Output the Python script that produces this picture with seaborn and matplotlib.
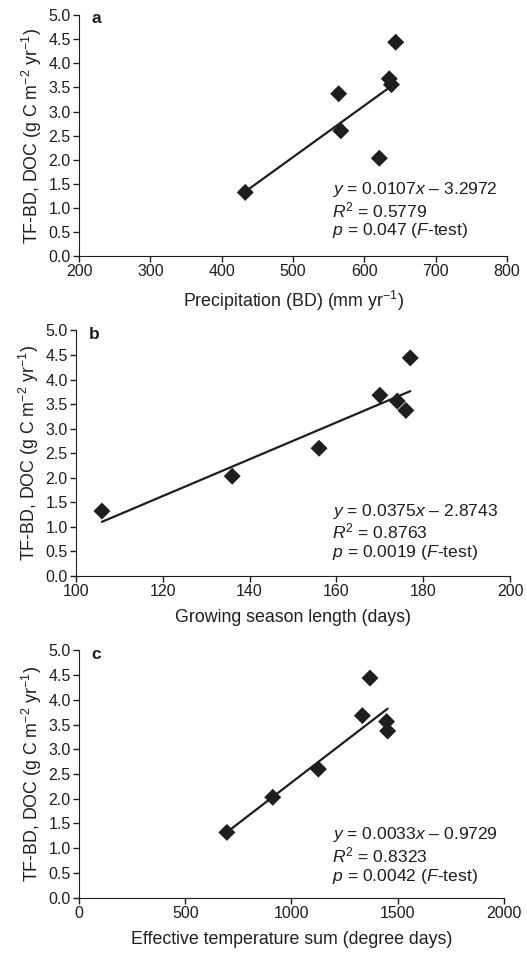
import numpy as np
import pandas as pd
import seaborn as sns
import matplotlib
matplotlib.use("Agg")
import matplotlib.pyplot as plt

# DOC flux (TF-BD) for the seven sites, g C m-2 yr-1
doc = [1.32, 2.03, 2.60, 3.37, 3.56, 3.68, 4.44]
# predictors for the same sites
precip = [433, 621, 567, 564, 638, 635, 644]
season_len = [106, 136, 156, 176, 174, 170, 177]
temp_sum = [696, 912, 1127, 1453, 1448, 1334, 1370]

# fitted lines (slope, intercept) and stats text
slopes = [0.0107, 0.0375, 0.0033]
intercepts = [-3.2972, -2.8743, -0.9729]
eq_txt = [r"$y$ = 0.0107$x$ – 3.2972", r"$y$ = 0.0375$x$ – 2.8743", r"$y$ = 0.0033$x$ – 0.9729"]
r2_txt = [r"$R^2$ = 0.5779", r"$R^2$ = 0.8763", r"$R^2$ = 0.8323"]
p_txt = [r"$p$ = 0.047 ($F$-test)", r"$p$ = 0.0019 ($F$-test)", r"$p$ = 0.0042 ($F$-test)"]

panel_letters = ["a", "b", "c"]
xlabels = [r"Precipitation (BD) (mm yr$^{-1}$)", "Growing season length (days)",
           "Effective temperature sum (degree days)"]
xlims = [(200, 800), (100, 200), (0, 2000)]
xsteps = [100, 20, 500]
ylabel = r"TF-BD, DOC (g C m$^{-2}$ yr$^{-1}$)"

sns.set_style("ticks")
plt.rcParams["font.family"] = ["Liberation Sans", "DejaVu Sans"]
plt.rcParams["mathtext.fontset"] = "custom"
plt.rcParams["mathtext.rm"] = "Liberation Sans"
plt.rcParams["mathtext.it"] = "Liberation Sans:italic"
plt.rcParams["mathtext.bf"] = "Liberation Sans:bold"

fig = plt.figure(figsize=(5.27, 9.55), dpi=100)
boxes = [[0.150, 0.732, 0.812, 0.252],
         [0.144, 0.397, 0.824, 0.257],
         [0.150, 0.060, 0.806, 0.259]]
text_x = [0.591, 0.59, 0.595]
text_y = [[0.274, 0.191, 0.105], [0.264, 0.179, 0.094], [0.255, 0.170, 0.085]]
ink = "#1e1e1e"

for i, xs in enumerate([precip, season_len, temp_sum]):
    ax = fig.add_axes(boxes[i])
    df = pd.DataFrame({"x": xs, "doc": doc})

    # trend line across the data range
    xr = np.array([min(xs), max(xs)])
    sns.lineplot(x=xr, y=slopes[i] * xr + intercepts[i], ax=ax, color=ink, lw=1.6)
    sns.scatterplot(data=df, x="x", y="doc", ax=ax, marker="D", s=75,
                    color=ink, edgecolor="none", zorder=3)

    ax.set_xlim(*xlims[i])
    ax.set_ylim(0, 5)
    ax.set_xticks(np.arange(xlims[i][0], xlims[i][1] + 1, xsteps[i]))
    ax.set_yticks(np.arange(0, 5.01, 0.5))
    ax.set_yticklabels([f"{v:.1f}" for v in np.arange(0, 5.01, 0.5)])
    ax.tick_params(direction="out", length=4, width=1, labelsize=11.5, colors=ink, pad=2)
    ax.set_xlabel(xlabels[i], fontsize=12.8, labelpad=7, color=ink)
    ax.set_ylabel(ylabel, fontsize=12.8, labelpad=3, color=ink)
    sns.despine(ax=ax)
    for sp in ["left", "bottom"]:
        ax.spines[sp].set_color(ink)

    ax.text(0.03, 0.985, panel_letters[i], transform=ax.transAxes, fontsize=12.5,
            fontweight="bold", va="center", ha="left", color=ink)
    for txt, ty in zip([eq_txt[i], r2_txt[i], p_txt[i]], text_y[i]):
        ax.text(text_x[i], ty, txt, transform=ax.transAxes, fontsize=12.6,
                va="center", ha="left", color=ink)

fig.savefig("out.png", dpi=100)
